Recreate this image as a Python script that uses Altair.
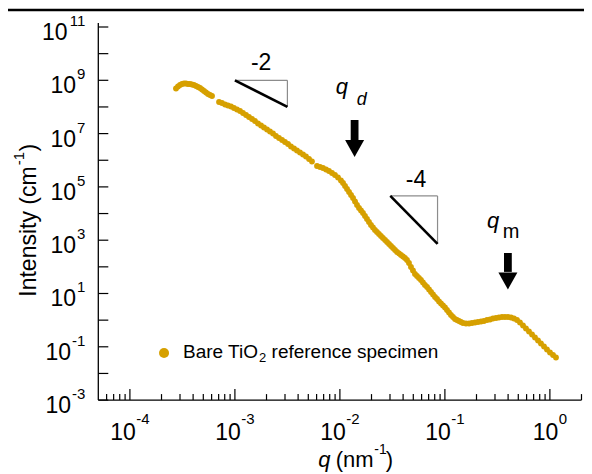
import altair as alt
import pandas as pd

# ---- data (log10 of q [nm^-1] and of intensity [cm^-1]) ----
log10_q = [
    -3.561, -3.542, -3.523, -3.504, -3.485, -3.466, -3.447, -3.428, -3.409, -3.390,
    -3.370, -3.351, -3.332, -3.313, -3.294, -3.275, -3.256, -3.237, -3.218,
    -3.151, -3.123, -3.094, -3.066, -3.037, -3.009, -2.980, -2.951, -2.923, -2.894,
    -2.866, -2.837, -2.809, -2.780, -2.751, -2.723, -2.694, -2.666, -2.637, -2.609,
    -2.580, -2.551, -2.523, -2.494, -2.466, -2.437, -2.409, -2.380, -2.351, -2.323,
    -2.294, -2.266,
    -2.218, -2.189, -2.161, -2.132, -2.104, -2.075, -2.047, -2.018, -1.990,
    -1.970, -1.951, -1.932, -1.913, -1.894, -1.875, -1.856, -1.837, -1.818, -1.799,
    -1.780, -1.761, -1.742, -1.723, -1.704, -1.685, -1.666, -1.647, -1.628, -1.609,
    -1.590, -1.570, -1.551, -1.532, -1.513, -1.494, -1.475, -1.456, -1.437, -1.418,
    -1.399, -1.380, -1.361, -1.342,
    -1.323, -1.304, -1.285, -1.266, -1.247, -1.228, -1.209, -1.190, -1.170, -1.151,
    -1.132, -1.113, -1.094, -1.075, -1.056, -1.037, -1.018, -0.999, -0.980, -0.961,
    -0.942, -0.923, -0.904, -0.885, -0.866, -0.847, -0.828,
    -0.799, -0.770, -0.742, -0.713, -0.685, -0.656, -0.628, -0.599, -0.570, -0.542,
    -0.513, -0.485, -0.456, -0.428, -0.399, -0.370, -0.342, -0.313, -0.285, -0.256,
    -0.228, -0.199, -0.170, -0.142, -0.113, -0.085, -0.056, -0.028, 0.001, 0.030, 0.058,
]
log10_I = [
    8.692, 8.767, 8.824, 8.861, 8.880, 8.880, 8.861, 8.861, 8.842, 8.824,
    8.786, 8.749, 8.711, 8.655, 8.599, 8.542, 8.486, 8.448, 8.411,
    8.186, 8.148, 8.092, 8.054, 8.017, 7.961, 7.904, 7.848, 7.773, 7.698,
    7.623, 7.548, 7.473, 7.379, 7.304, 7.229, 7.154, 7.079, 7.004, 6.910,
    6.835, 6.760, 6.685, 6.610, 6.516, 6.441, 6.366, 6.291, 6.216, 6.141,
    6.047, 5.953,
    5.784, 5.747, 5.709, 5.653, 5.597, 5.522, 5.447, 5.353, 5.240,
    5.146, 5.034, 4.921, 4.809, 4.696, 4.584, 4.452, 4.321, 4.208, 4.115,
    4.021, 3.908, 3.796, 3.683, 3.570, 3.477, 3.383, 3.308, 3.233, 3.158,
    3.083, 3.008, 2.933, 2.858, 2.782, 2.707, 2.632, 2.557, 2.501, 2.445,
    2.388, 2.332, 2.257, 2.145,
    1.994, 1.863, 1.732, 1.657, 1.582, 1.507, 1.413, 1.319, 1.244, 1.150,
    1.056, 0.963, 0.869, 0.794, 0.700, 0.625, 0.550, 0.475, 0.381, 0.287,
    0.193, 0.118, 0.043, 0.006, -0.032, -0.069, -0.107,
    -0.126, -0.126, -0.107, -0.088, -0.069, -0.051, -0.032, 0.006, 0.025, 0.062,
    0.081, 0.100, 0.118, 0.118, 0.118, 0.100, 0.062, 0.006, -0.088, -0.201,
    -0.313, -0.426, -0.538, -0.651, -0.763, -0.876, -0.989, -1.101, -1.214, -1.308, -1.401,
]
assert len(log10_q) == len(log10_I)

series_name = ["Bare TiO", "2", "reference specimen"]

# axis ticks / labels
y_tick_exps = list(range(-3, 12))
y_label_exps = [-3, -1, 1, 3, 5, 7, 9, 11]
x_label_exps = [-4, -3, -2, -1, 0]
x_minor_mult = [2, 3, 4, 5, 6, 7, 8, 9]

# slope triangles (log10 values)
slope_text = ["-2", "-4"]
tri_q0 = [-3.0, -1.52]
tri_q1 = [-2.5, -1.07]
tri_I0 = [9.0, 4.66]
tri_I1 = [8.0, 2.86]
slope_text_q = [-2.75, -1.275]
slope_text_I = [9.39, 5.0]

# characteristic q arrows (log10 values)
arrow_q = [-1.86, -0.40]
arrow_top = [7.51, 2.52]
arrow_bot = [6.76, 1.81]
arrow_head = [6.44, 1.47]
peak_sub = ["d", "m"]
peak_q_text = [-2.04, -0.60]
peak_I_text = [8.49, 3.46]
peak_sub_q = [-1.84, -0.45]
peak_sub_I = [8.07, 3.08]

# legend anchor (log10 values)
legend_dot = (-3.675, -1.233)
legend_text = (-3.494, -1.42)

# ---------------------------------------------------------------------------
W = 483.2
H = 373.1
FONT = "Liberation Sans"
GOLD = "#D6A000"
XS = alt.Scale(type="log", domain=[5e-5, 2], nice=False)
YS = alt.Scale(type="log", domain=[1e-3, 1e11], nice=False)


def xe(f):
    return alt.X(f"{f}:Q", scale=XS, axis=None)


def ye(f):
    return alt.Y(f"{f}:Q", scale=YS, axis=None)


def p10(v):
    return [10.0 ** x for x in v]


one = pd.DataFrame({"a": [0]})
layers = []

# top rule of the surrounding figure
layers.append(alt.Chart(one).mark_rule(color="black", strokeWidth=2.7).encode(
    x=alt.value(-95), x2=alt.value(W + 10), y=alt.value(-17)))

# axis lines
layers.append(alt.Chart(one).mark_rule(color="black", strokeWidth=1.3).encode(
    x=alt.value(0), y=alt.value(-4), y2=alt.value(H)))
layers.append(alt.Chart(one).mark_rule(color="black", strokeWidth=1.3).encode(
    x=alt.value(0), x2=alt.value(W), y=alt.value(H)))

# y ticks (inward)
df_yt = pd.DataFrame({"I": [10.0 ** e for e in y_tick_exps]})
layers.append(alt.Chart(df_yt).mark_rule(color="black", strokeWidth=1.2).encode(
    y=ye("I"), x=alt.value(0), x2=alt.value(10)))

# x ticks (inward)
df_xt = pd.DataFrame({"q": [10.0 ** e for e in x_label_exps]})
layers.append(alt.Chart(df_xt).mark_rule(color="black", strokeWidth=1.2).encode(
    x=xe("q"), y=alt.value(H), y2=alt.value(H - 11)))
minor = [m * 10.0 ** e for e in range(-5, 1) for m in x_minor_mult if 5.05e-5 < m * 10.0 ** e <= 2.0]
df_xm = pd.DataFrame({"q": minor})
layers.append(alt.Chart(df_xm).mark_rule(color="black", strokeWidth=1.2).encode(
    x=xe("q"), y=alt.value(H), y2=alt.value(H - 6)))


def wexp(s, fs):
    return sum(0.333 if c == "-" else 0.556 for c in s) * fs


TF = 23  # tick label font size
EF = 15  # exponent font size

# y tick labels 10^n
for e in y_label_exps:
    s = str(e)
    df = pd.DataFrame({"I": [10.0 ** e]})
    layers.append(alt.Chart(df).mark_text(text="10", align="right", baseline="alphabetic", dy=13,
                                          fontSize=TF, font=FONT, color="black").encode(
        y=ye("I"), x=alt.value(-13 - wexp(s, EF) - 1)))
    layers.append(alt.Chart(df).mark_text(text=s, align="right", baseline="alphabetic", dy=-1,
                                          fontSize=EF, font=FONT, color="black").encode(
        y=ye("I"), x=alt.value(-13)))

# x tick labels 10^n
w10 = 1.112 * TF
for e in x_label_exps:
    s = str(e)
    tot = w10 + 0.5 + wexp(s, EF)
    df = pd.DataFrame({"q": [10.0 ** e]})
    layers.append(alt.Chart(df).mark_text(text="10", align="left", baseline="alphabetic", dx=-tot / 2,
                                          fontSize=TF, font=FONT, color="black").encode(
        x=xe("q"), y=alt.value(H + 40)))
    layers.append(alt.Chart(df).mark_text(text=s, align="left", baseline="alphabetic",
                                          dx=-tot / 2 + w10 + 0.5,
                                          fontSize=EF, font=FONT, color="black").encode(
        x=xe("q"), y=alt.value(H + 24)))

# x axis title: q (nm^-1)
TY = H + 67
layers.append(alt.Chart(one).mark_text(text="q", align="left", baseline="alphabetic", fontSize=22,
                                       fontStyle="italic", font=FONT, color="black").encode(
    x=alt.value(220.0), y=alt.value(TY)))
layers.append(alt.Chart(one).mark_text(text="(nm", align="left", baseline="alphabetic", fontSize=22,
                                       font=FONT, color="black").encode(
    x=alt.value(237.5), y=alt.value(TY)))
layers.append(alt.Chart(one).mark_text(text="-1", align="left", baseline="alphabetic", fontSize=14,
                                       font=FONT, color="black").encode(
    x=alt.value(276.0), y=alt.value(TY - 13)))
layers.append(alt.Chart(one).mark_text(text=")", align="left", baseline="alphabetic", fontSize=22,
                                       font=FONT, color="black").encode(
    x=alt.value(287.5), y=alt.value(TY)))

# y axis title: Intensity (cm^-1)
layers.append(alt.Chart(one).mark_text(text="Intensity (cm", align="left", baseline="alphabetic",
                                       angle=270, fontSize=23, font=FONT, color="black").encode(
    x=alt.value(-62.3), y=alt.value(269.7)))
layers.append(alt.Chart(one).mark_text(text="-1", align="left", baseline="alphabetic",
                                       angle=270, fontSize=15, font=FONT, color="black").encode(
    x=alt.value(-74.3), y=alt.value(138.3)))
layers.append(alt.Chart(one).mark_text(text=")", align="left", baseline="alphabetic",
                                       angle=270, fontSize=23, font=FONT, color="black").encode(
    x=alt.value(-62.3), y=alt.value(124.5)))

# data points
df_pts = pd.DataFrame({"q": p10(log10_q), "I": p10(log10_I)})
layers.append(alt.Chart(df_pts).mark_circle(size=34, color=GOLD, opacity=1).encode(
    x=xe("q"), y=ye("I")))

# slope triangles
df_tri = pd.DataFrame({"q0": p10(tri_q0), "q1": p10(tri_q1), "I0": p10(tri_I0), "I1": p10(tri_I1)})
layers.append(alt.Chart(df_tri).mark_rule(color="#8c8c8c", strokeWidth=1.2).encode(
    x=xe("q0"), x2=alt.X2("q1"), y=ye("I0")))
layers.append(alt.Chart(df_tri).mark_rule(color="#8c8c8c", strokeWidth=1.2).encode(
    x=xe("q1"), y=ye("I0"), y2=alt.Y2("I1")))
layers.append(alt.Chart(df_tri).mark_rule(color="black", strokeWidth=2.6).encode(
    x=xe("q0"), x2=alt.X2("q1"), y=ye("I0"), y2=alt.Y2("I1")))
df_st = pd.DataFrame({"q": p10(slope_text_q), "I": p10(slope_text_I), "t": slope_text})
layers.append(alt.Chart(df_st).mark_text(align="center", baseline="alphabetic", fontSize=23,
                                         font=FONT, color="black").encode(
    x=xe("q"), y=ye("I"), text="t:N"))

# arrows
df_ar = pd.DataFrame({"q": p10(arrow_q), "I1": p10(arrow_top), "I2": p10(arrow_bot),
                      "Ih": p10(arrow_head)})
layers.append(alt.Chart(df_ar).mark_rule(color="black", strokeWidth=7.8).encode(
    x=xe("q"), y=ye("I1"), y2=alt.Y2("I2")))
layers.append(alt.Chart(df_ar).mark_point(shape="M-1,-0.9L1,-0.9L0,0.9Z", filled=True, size=361,
                                          color="black", opacity=1, strokeWidth=0).encode(
    x=xe("q"), y=ye("Ih")))

# q_d / q_m labels
df_pq = pd.DataFrame({"q": p10(peak_q_text), "I": p10(peak_I_text)})
layers.append(alt.Chart(df_pq).mark_text(text="q", align="left", baseline="alphabetic", fontSize=22,
                                         fontStyle="italic", font=FONT, color="black").encode(
    x=xe("q"), y=ye("I")))
df_d = pd.DataFrame({"q": [10.0 ** peak_sub_q[0]], "I": [10.0 ** peak_sub_I[0]]})
layers.append(alt.Chart(df_d).mark_text(text=peak_sub[0], align="left", baseline="alphabetic",
                                        fontSize=18, fontStyle="italic", font=FONT,
                                        color="black").encode(x=xe("q"), y=ye("I")))
df_m = pd.DataFrame({"q": [10.0 ** peak_sub_q[1]], "I": [10.0 ** peak_sub_I[1]]})
layers.append(alt.Chart(df_m).mark_text(text=peak_sub[1], align="left", baseline="alphabetic",
                                        fontSize=20, font=FONT, color="black").encode(
    x=xe("q"), y=ye("I")))

# legend
df_ld = pd.DataFrame({"q": [10.0 ** legend_dot[0]], "I": [10.0 ** legend_dot[1]]})
layers.append(alt.Chart(df_ld).mark_circle(size=100, color=GOLD, opacity=1).encode(
    x=xe("q"), y=ye("I")))
df_lt = pd.DataFrame({"q": [10.0 ** legend_text[0]], "I": [10.0 ** legend_text[1]]})
LF = 19
w_first = 4.001 * LF
layers.append(alt.Chart(df_lt).mark_text(text=series_name[0], align="left", baseline="alphabetic",
                                         fontSize=LF, font=FONT, color="black").encode(
    x=xe("q"), y=ye("I")))
layers.append(alt.Chart(df_lt).mark_text(text=series_name[1], align="left", baseline="alphabetic",
                                         dx=w_first, dy=4, fontSize=13, font=FONT,
                                         color="black").encode(x=xe("q"), y=ye("I")))
layers.append(alt.Chart(df_lt).mark_text(text=series_name[2], align="left", baseline="alphabetic",
                                         dx=w_first + 0.556 * 13 + 0.278 * LF, fontSize=LF, font=FONT,
                                         color="black").encode(x=xe("q"), y=ye("I")))

chart = alt.layer(*layers).properties(
    width=W, height=H,
    autosize=alt.AutoSizeParams(type="none"),
    padding={"left": 90.3, "top": 19, "right": 2, "bottom": 72},
).configure_view(stroke=None)

chart.save("out.html", embed_options={"renderer": "svg", "actions": False})
